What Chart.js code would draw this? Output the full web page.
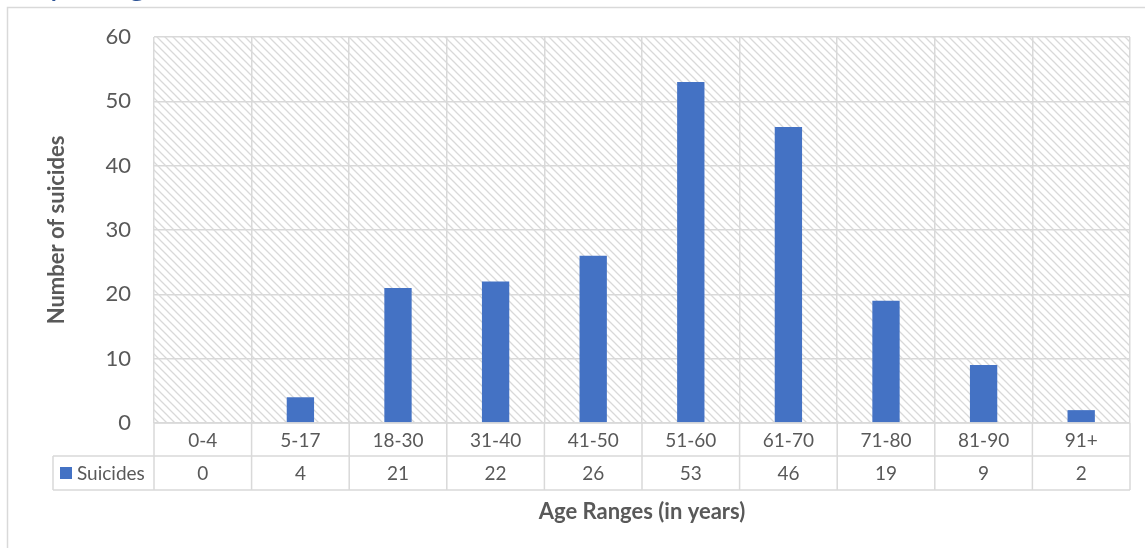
<!DOCTYPE html>
<html><head><meta charset="utf-8">
<script src="https://cdn.jsdelivr.net/npm/chart.js@4.4.1/dist/chart.umd.min.js"></script>
<style>html,body{margin:0;padding:0;background:#fff;overflow:hidden}</style>
</head><body>
<canvas id="c" width="1145" height="548" style="display:block"></canvas>
<script>
// ---- data ----
const categories = ['0-4','5-17','18-30','31-40','41-50','51-60','61-70','71-80','81-90','91+'];
const suicides = [0,4,21,22,26,53,46,19,9,2];
const yTickValues = [0,10,20,30,40,50,60];
const seriesName = 'Suicides';
const yTitle = 'Number of suicides';
const xTitle = 'Age Ranges (in years)';
const chartTitle = 'Suicides per Age';

// ---- styles ----
const FONT = 'Lato, "Open Sans", sans-serif';
const TXT = '#595959';
const GRID = '#d9d9d9';
const BAR = '#4472C4';

const canvas = document.getElementById('c');
const ctx = canvas.getContext('2d');

function makeHatch(){
  const p = document.createElement('canvas'); p.width = 8; p.height = 8;
  const g = p.getContext('2d');
  g.fillStyle = '#ffffff'; g.fillRect(0,0,8,8);
  g.strokeStyle = '#d9d9d9'; g.lineWidth = 1.3;
  g.beginPath();
  g.moveTo(-2,-2); g.lineTo(10,10);
  g.moveTo(-2,6); g.lineTo(2,10);
  g.moveTo(6,-2); g.lineTo(10,2);
  g.stroke();
  return ctx.createPattern(p,'repeat');
}
const hatch = makeHatch();

const decor = {
  id: 'decor',
  beforeDraw(chart){
    const c = chart.ctx, a = chart.chartArea;
    c.save();
    c.fillStyle = '#fff'; c.fillRect(0,0,chart.width,chart.height);
    // outer frame
    c.strokeStyle = GRID; c.lineWidth = 1.5;
    c.beginPath(); c.moveTo(7.5, chart.height+2); c.lineTo(7.5,7.5); c.lineTo(chart.width+2,7.5); c.stroke();
    // cropped title (only descender tips visible above the frame)
    c.fillStyle = '#2F5597'; c.font = '33px ' + FONT; c.textBaseline = 'alphabetic'; c.textAlign = 'left';
    const pre = c.measureText('Suicides ').width;
    c.fillText(chartTitle, 50 - pre, -5);
    // hatched plot background
    c.fillStyle = hatch;
    c.fillRect(a.left, a.top, a.right - a.left, a.bottom - a.top);
    c.restore();
  },
  afterDraw(chart){
    const c = chart.ctx, a = chart.chartArea, x = chart.scales.x;
    const row1 = a.bottom + 33, row2 = row1 + 34, tableLeft = 53;
    c.save();
    c.strokeStyle = GRID; c.lineWidth = 1.5;
    c.beginPath();
    c.moveTo(a.left, a.bottom); c.lineTo(a.right, a.bottom);
    c.moveTo(tableLeft, row1); c.lineTo(a.right, row1);
    c.moveTo(tableLeft, row2); c.lineTo(a.right, row2);
    c.moveTo(tableLeft, row1); c.lineTo(tableLeft, row2);
    const n = categories.length;
    const step = (a.right - a.left) / n;
    for (let i = 0; i <= n; i++){
      const px = i < n ? x.getPixelForValue(i) - step/2 : x.getPixelForValue(n-1) + step/2;
      c.moveTo(px, a.bottom); c.lineTo(px, row2);
    }
    c.stroke();
    c.fillStyle = TXT; c.font = '19px ' + FONT; c.textAlign = 'center'; c.textBaseline = 'middle';
    categories.forEach((lab,i) => {
      const px = x.getPixelForValue(i);
      c.fillText(lab, px, (a.bottom + row1)/2 + 1);
      c.fillText(String(suicides[i]), px, (row1 + row2)/2 + 1);
    });
    // legend key
    c.fillStyle = BAR; c.fillRect(60, 467, 12, 12);
    c.fillStyle = TXT; c.textAlign = 'left';
    c.fillText(seriesName, 77, (row1 + row2)/2 + 1);
    // x title
    c.font = 'bold 22px ' + FONT; c.textAlign = 'center';
    c.fillText(xTitle, (a.left + a.right)/2, 512);
    c.restore();
  }
};

new Chart(ctx, {
  type: 'bar',
  data: {
    labels: categories,
    datasets: [{ label: seriesName, data: suicides, backgroundColor: BAR, borderWidth: 0,
      barPercentage: 0.28, categoryPercentage: 1 }]
  },
  options: {
    responsive: false, animation: false, devicePixelRatio: 1,
    layout: { padding: { left: 8, top: 37, right: 15, bottom: 0 } },
    plugins: { legend: { display: false }, tooltip: { enabled: false }, title: { display: false } },
    scales: {
      x: {
        grid: { offset: true, color: GRID, lineWidth: 1.5, drawTicks: false },
        border: { display: false },
        ticks: { display: false },
        afterFit(s){ s.height = 125; }
      },
      y: {
        min: 0, max: 60,
        afterBuildTicks(s){ s.ticks = yTickValues.map(v => ({ value: v })); },
        grid: { color: GRID, lineWidth: 1.5, drawTicks: false },
        border: { display: false },
        ticks: { color: TXT, font: { family: FONT, size: 22 }, padding: 23 },
        title: { display: true, text: yTitle, color: TXT, font: { family: FONT, size: 22, weight: 'bold' }, padding: { top: 36, bottom: 0 } },
        afterFit(s){ s.width = 146; }
      }
    }
  },
  plugins: [decor]
});
</script>
</body></html>
